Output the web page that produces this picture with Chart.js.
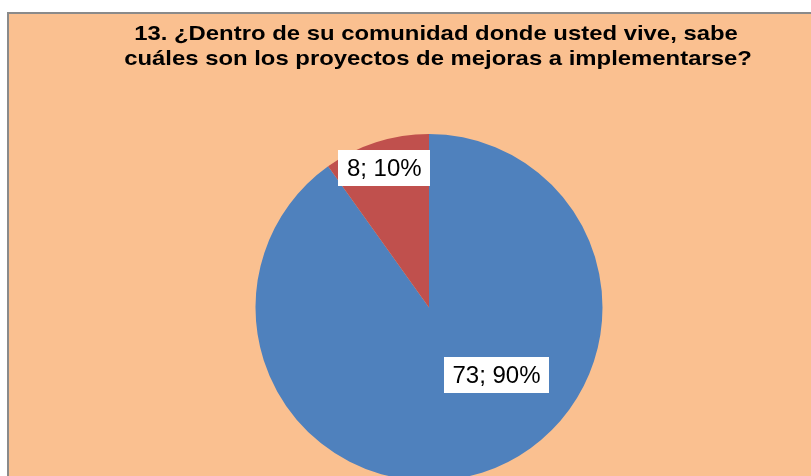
<!DOCTYPE html>
<html>
<head>
<meta charset="utf-8">
<script src="https://cdn.jsdelivr.net/npm/chart.js@4"></script>
<style>
  html, body { margin: 0; padding: 0; background: #ffffff; overflow: hidden; }
  #wrap { position: relative; width: 811px; height: 476px; overflow: hidden; }
  canvas { display: block; }
</style>
</head>
<body>
<div id="wrap"><canvas id="c" width="811" height="490"></canvas></div>
<script>
// ---- data ----
const categories = ["No", "Sí"];
const values = [73, 8];
const percentLabels = ["90%", "10%"];
const titleLines = [
  "13. ¿Dentro de su comunidad donde usted vive, sabe",
  "cuáles son los proyectos de mejoras a implementarse?"
];

// ---- styles ----
const sliceColors = ["#4F81BD", "#C0504D"];
const frameFill = "#FAC090";
const frameBorder = "#8A8A8A";
// label placement: angle (deg clockwise from top, null = slice middle) and radial fraction
const labelPlacement = [
  { angle: 135, frac: 0.55 },
  { angle: null, frac: 0.845 }
];

const framePlugin = {
  id: "frame",
  beforeDraw(chart) {
    const ctx = chart.ctx;
    ctx.save();
    ctx.fillStyle = "#ffffff";
    ctx.fillRect(0, 0, chart.width, chart.height);
    ctx.fillStyle = frameFill;
    ctx.fillRect(8, 13, chart.width, chart.height);
    ctx.strokeStyle = frameBorder;
    ctx.lineWidth = 2;
    ctx.strokeRect(8, 13, chart.width + 10, chart.height + 10);
    ctx.restore();
  }
};

const titlePlugin = {
  id: "titleText",
  afterDraw(chart) {
    const ctx = chart.ctx;
    const hScale = 1.137;
    const drawLine = (text, cx, baseline) => {
      ctx.save();
      ctx.translate(cx, baseline);
      ctx.scale(hScale, 1);
      ctx.fillStyle = "#000000";
      ctx.font = "bold 21px 'Liberation Sans', Arial, sans-serif";
      ctx.textAlign = "center";
      ctx.textBaseline = "alphabetic";
      ctx.fillText(text, 0, 0);
      ctx.restore();
    };
    drawLine(titleLines[0], 436, 40);
    drawLine(titleLines[1], 438, 65);
  }
};

const labelPlugin = {
  id: "sliceLabels",
  afterDatasetsDraw(chart) {
    const ctx = chart.ctx;
    const meta = chart.getDatasetMeta(0);
    ctx.save();
    ctx.font = "24px 'Liberation Sans', Arial, sans-serif";
    ctx.textAlign = "center";
    ctx.textBaseline = "middle";
    meta.data.forEach((arc, i) => {
      const p = labelPlacement[i];
      let a;
      if (p.angle === null) {
        a = (arc.startAngle + arc.endAngle) / 2;
      } else {
        a = p.angle * Math.PI / 180 - Math.PI / 2;
      }
      const r = arc.outerRadius * p.frac;
      const cx = arc.x + Math.cos(a) * r;
      const cy = arc.y + Math.sin(a) * r;
      const text = values[i] + "; " + percentLabels[i];
      const w = ctx.measureText(text).width + 17;
      const h = 36;
      ctx.fillStyle = "#ffffff";
      ctx.fillRect(Math.round(cx - w / 2), Math.round(cy - h / 2), Math.round(w), h);
      ctx.fillStyle = "#000000";
      ctx.fillText(text, cx, cy + 1);
    });
    ctx.restore();
  }
};

new Chart(document.getElementById("c"), {
  type: "pie",
  data: {
    labels: categories,
    datasets: [{
      data: values,
      backgroundColor: sliceColors,
      borderWidth: 0
    }]
  },
  options: {
    responsive: false,
    animation: false,
    rotation: 0,
    layout: { padding: { left: 255.5, right: 208.5, top: 134, bottom: 9 } },
    plugins: {
      legend: { display: false },
      title: { display: false },
      tooltip: { enabled: false }
    }
  },
  plugins: [framePlugin, titlePlugin, labelPlugin]
});
</script>
</body>
</html>
